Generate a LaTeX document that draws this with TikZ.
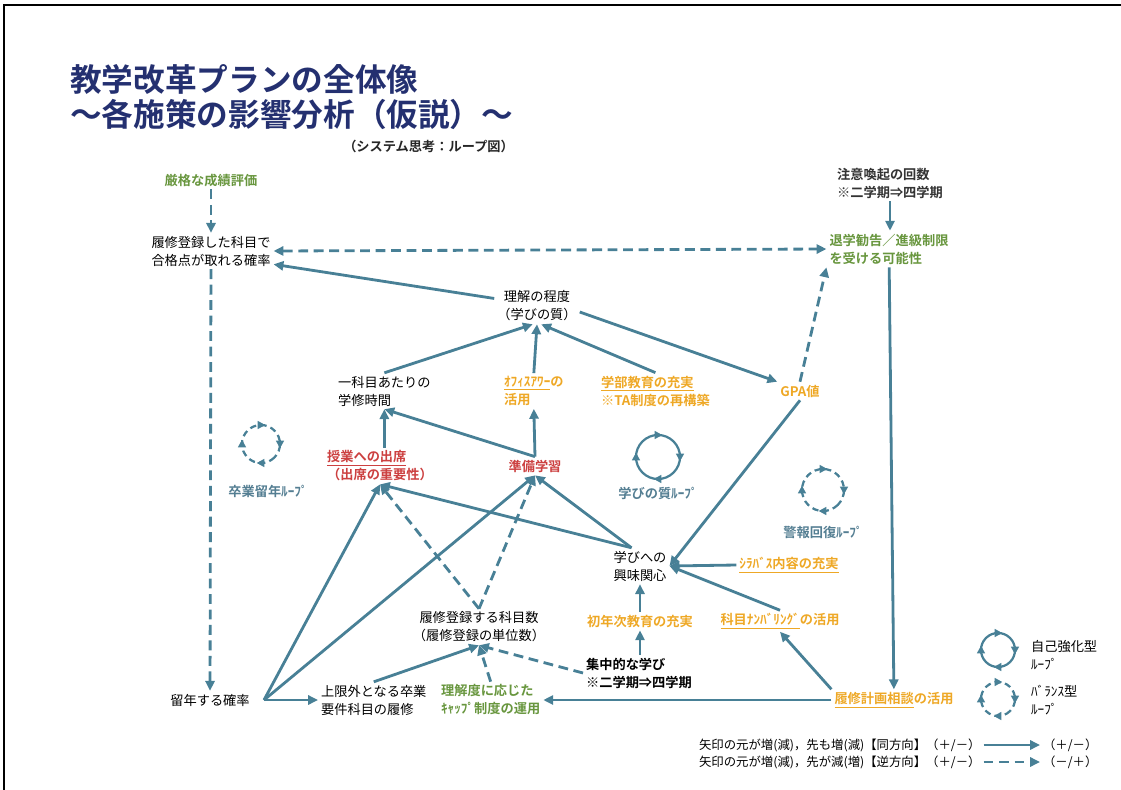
\documentclass[tikz,border=0pt]{standalone}
\usepackage{fontspec}
\setmainfont{Noto Sans CJK JP}[BoldFont={Noto Sans CJK JP Bold}]
\usepackage{tikz}
\usepackage{color}
\usetikzlibrary{arrows.meta}
\usetikzlibrary{decorations.markings}
\definecolor{navy}{RGB}{36,48,112}
\definecolor{link}{RGB}{72,128,150}
\definecolor{leaf}{RGB}{104,150,62}
\definecolor{gold}{RGB}{238,168,38}
\definecolor{brick}{RGB}{204,64,64}
\definecolor{loopname}{RGB}{84,126,146}
\tikzset{
  txt/.style={font=\fontsize{9.4}{12.8}\selectfont,align=left,inner sep=2pt},
  bld/.style={txt,font=\fontsize{9.4}{12.8}\selectfont\bfseries},
  lever/.style={bld,text=gold},
  habit/.style={bld,text=brick},
  rule/.style={bld,text=leaf},
  samedir/.style={draw=link,line width=2pt,-{Triangle[length=7pt,width=6.5pt]}},
  oppdir/.style={samedir,dash pattern=on 7pt off 4pt},
  loopicon/.style={draw=link,line width=1.6pt,postaction={decorate},
    decoration={markings,mark=between positions 0.125 and 0.875 step 0.25 with {\fill[link] (3pt,0) -- (-2.4pt,3pt) -- (-2.4pt,-3pt) -- cycle;}}},
  balancing/.style={loopicon,dash pattern=on 4.5pt off 3pt}
}
\begin{document}
\begin{tikzpicture}[x=0.025cm,y=-0.025cm]
\useasboundingbox (0,0) rectangle (1121,790);
\draw[line width=1.2pt] (4,790) -- (4,5) -- (1121,5);

\node[anchor=west,align=left,inner sep=0,text=navy,font=\fontsize{22.5}{24.9}\selectfont\bfseries] (title) at (70,97) {教学改革プランの全体像\\～各施策の影響分析（仮説）～};
\node[bld,anchor=east,text=black!85] (subtitle) at (517,146) {（システム思考：ループ図）};

\node[rule] (strict) at (211,180) {厳格な成績評価};
\node[txt] (pass) at (211,251) {履修登録した科目で\\合格点が取れる確率};
\node[bld,text=black!80] (warn) at (890,183) {注意喚起の回数\\※二学期⇒四学期};
\node[rule] (dismiss) at (889,249) {退学勧告／進級制限\\を受ける可能性};
\node[txt,align=center] (understanding) at (537,306) {理解の程度\\（学びの質）};
\node[txt,anchor=west] (study) at (335,391) {一科目あたりの\\学修時間};
\node[lever,anchor=west] (office) at (501,391) {\underline{ｵﾌｨｽｱﾜｰ}の\\活用};
\node[lever,anchor=west] (faculty) at (598,391) {\underline{学部教育の充実}\\※TA制度の再構築};
\node[lever] (gpa) at (800,391) {GPA値};
\node[habit,anchor=west] (attend) at (324,466) {\underline{授業への出席}\\（出席の重要性）};
\node[habit] (prep) at (535,466) {準備学習};
\node[txt] (interest) at (640,566) {学びへの\\興味関心};
\node[lever] (syllabus) at (789,565) {\underline{ｼﾗﾊﾞｽ内容の充実}};
\node[lever] (first) at (640,621) {初年次教育の充実};
\node[lever] (numbering) at (780,621) {\underline{科目ﾅﾝﾊﾞﾘﾝｸﾞ}の活用};
\node[txt,align=center] (courses) at (479,627) {履修登録する科目数\\（履修登録の単位数）};
\node[bld,anchor=west] (intensive) at (583,673) {集中的な学び\\※二学期⇒四学期};
\node[txt] (repeat) at (210,700) {留年する確率};
\node[txt,anchor=west] (outside) at (318,700) {上限外となる卒業\\要件科目の履修};
\node[rule,anchor=west] (cap) at (438,700) {理解度に応じた\\ｷｬｯﾌﾟ制度の運用};
\node[lever] (plan) at (894,700) {\underline{履修計画相談}の活用};

\draw[balancing] (261,444) ++(45:19) arc[start angle=45,end angle=405,radius=19];
\node[bld,text=loopname] (gradloop) at (268,491) {卒業留年ﾙｰﾌﾟ};
\draw[loopicon] (658,457) ++(45:22) arc[start angle=45,end angle=405,radius=22];
\node[bld,text=loopname] (qualityloop) at (658,493) {学びの質ﾙｰﾌﾟ};
\draw[balancing] (823,490) ++(45:21) arc[start angle=45,end angle=405,radius=21];
\node[bld,text=loopname] (alarmloop) at (823,532) {警報回復ﾙｰﾌﾟ};

\draw[loopicon] (998,650) ++(45:17) arc[start angle=45,end angle=405,radius=17];
\node[txt,anchor=west] (selfloop) at (1028,655) {自己強化型\\ﾙｰﾌﾟ};
\draw[balancing] (998,699) ++(45:17) arc[start angle=45,end angle=405,radius=17];
\node[txt,anchor=west] (balloop) at (1028,700) {ﾊﾞﾗﾝｽ型\\ﾙｰﾌﾟ};

\node[txt,anchor=west,font=\fontsize{8.8}{12}\selectfont] (legsame) at (696,745) {矢印の元が増(減)，先も増(減)【同方向】（＋/－）};
\node[txt,anchor=west,font=\fontsize{8.8}{12}\selectfont] (legopp) at (696,762) {矢印の元が増(減)，先が減(増)【逆方向】（＋/－）};
\node[txt,anchor=west,font=\fontsize{8.8}{12}\selectfont] (signsame) at (1040,745) {（＋/－）};
\node[txt,anchor=west,font=\fontsize{8.8}{12}\selectfont] (signopp) at (1040,762) {（－/＋）};
\draw[samedir] (legsame.east) -- (signsame.west);
\draw[oppdir] (legopp.east) -- (signopp.west);

\draw[oppdir] (strict) -- (pass);
\draw[oppdir] (pass) -- (repeat);
\draw[oppdir,{Triangle[length=7pt,width=6.5pt]}-{Triangle[length=7pt,width=6.5pt]}] (pass.east) -- (dismiss.west);
\draw[samedir] (understanding.170) -- (pass.-12);
\draw[samedir] (understanding.-8) -- (gpa.north west);
\draw[oppdir] (gpa.north) -- (dismiss.south west);
\draw[samedir] (warn) -- (warn |- dismiss.north);
\draw[samedir] (dismiss) -- (plan);
\draw[samedir] (study.north) -- ([xshift=-3pt]understanding.south);
\draw[samedir] (office.north) -- (understanding.south);
\draw[samedir] (faculty.north) -- ([xshift=3pt]understanding.south);
\draw[samedir] (attend.north -| study.south) -- (study.south);
\draw[samedir] (prep.north) -- (study.south);
\draw[samedir] (prep.north) -- (office.south);
\draw[samedir] ([xshift=8pt]repeat.east) -- (attend.south);
\draw[samedir] ([xshift=8pt]repeat.east) -- (prep.south);
\draw[samedir] ([xshift=8pt]repeat.east) -- (outside.west);
\draw[oppdir] (courses.north) -- (attend.south);
\draw[oppdir] (courses.north) -- (prep.south);
\draw[samedir] (interest.115) -- (attend.south);
\draw[samedir] (interest.115) -- (prep.south);
\draw[samedir] (gpa.south) -- (interest.east);
\draw[samedir] (syllabus.west) -- (interest.east);
\draw[samedir] (numbering.north) -- (interest.east);
\draw[samedir] (first.north) -- (interest.south);
\draw[samedir] (intensive.north -| first.south) -- (first.south);
\draw[oppdir] (intensive.west) -- (courses.south);
\draw[samedir] (outside.north) -- (courses.south);
\draw[oppdir] (cap.north) -- (courses.south);
\draw[samedir] (plan.west) -- (cap.east);
\draw[samedir] (plan.north west) -- (numbering.south);
\end{tikzpicture}
\end{document}
